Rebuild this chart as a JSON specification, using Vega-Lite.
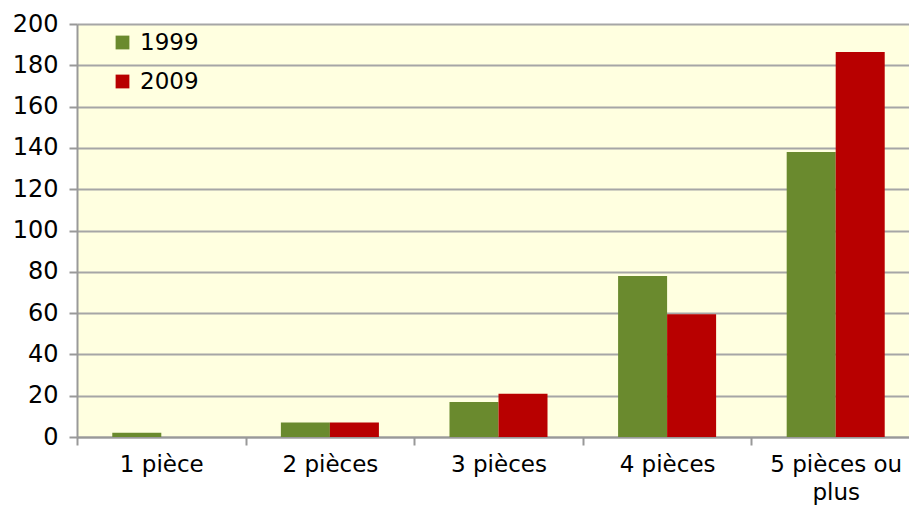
{
  "$schema": "https://vega.github.io/schema/vega-lite/v6.json",
  "autosize": "none",
  "padding": {"left": 77, "top": 24, "right": 0, "bottom": 73},
  "width": 843,
  "height": 413,
  "background": "white",
  "data": {"values": [
    {"cat": "1 pièce", "year": "1999", "value": 2},
    {"cat": "1 pièce", "year": "2009", "value": 0},
    {"cat": "2 pièces", "year": "1999", "value": 7},
    {"cat": "2 pièces", "year": "2009", "value": 7},
    {"cat": "3 pièces", "year": "1999", "value": 17},
    {"cat": "3 pièces", "year": "2009", "value": 21},
    {"cat": "4 pièces", "year": "1999", "value": 78},
    {"cat": "4 pièces", "year": "2009", "value": 59.5},
    {"cat": "5 pièces ou plus", "year": "1999", "value": 138},
    {"cat": "5 pièces ou plus", "year": "2009", "value": 186.5}
  ]},
  "config": {
    "font": "DejaVu Sans",
    "view": {"fill": "#FFFFE0", "stroke": null}
  },
  "mark": {"type": "bar", "stroke": null},
  "encoding": {
    "x": {
      "field": "cat", "type": "nominal", "sort": null,
      "scale": {"paddingInner": 0, "paddingOuter": 0},
      "axis": {
        "title": null, "labelAngle": 0, "tickBand": "extent",
        "labelFontSize": 23, "labelColor": "black", "labelPadding": 8,
        "labelExpr": "datum.label == '5 pièces ou plus' ? ['5 pièces ou', 'plus'] : datum.label",
        "domainColor": "#999999", "domainWidth": 2,
        "tickColor": "#999999", "tickSize": 8, "tickWidth": 2,
        "labelLineHeight": 28
      }
    },
    "xOffset": {"field": "year", "type": "nominal", "scale": {"paddingInner": 0, "paddingOuter": 0.72}},
    "y": {
      "field": "value", "type": "quantitative",
      "scale": {"domain": [0, 200], "nice": false},
      "axis": {
        "title": null, "values": [0,20,40,60,80,100,120,140,160,180,200],
        "labelFontSize": 24, "labelColor": "black", "labelPadding": 11,
        "grid": true, "gridColor": "#A6A6A6", "gridWidth": 2,
        "domainColor": "#999999", "domainWidth": 2,
        "tickColor": "#999999", "tickSize": 8, "tickWidth": 2
      }
    },
    "color": {
      "field": "year", "type": "nominal",
      "scale": {"domain": ["1999", "2009"], "range": ["#6A8A2E", "#B80000"]},
      "legend": {
        "title": null, "orient": "none", "legendX": 34, "legendY": 7,
        "symbolType": "square", "symbolSize": 190, "symbolStrokeWidth": 0,
        "labelFontSize": 23, "labelColor": "black", "rowPadding": 15,
        "labelOffset": 6
      }
    }
  }
}
